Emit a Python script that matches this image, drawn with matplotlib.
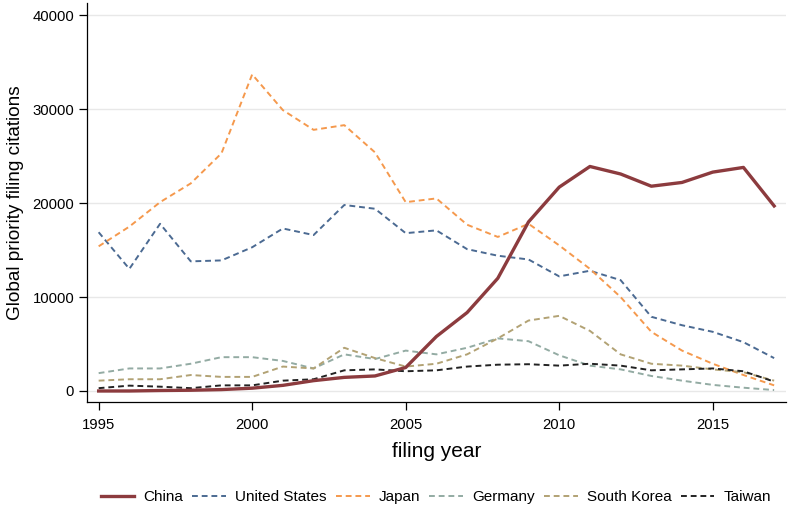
import matplotlib
matplotlib.use("Agg")
import matplotlib.pyplot as plt

plt.rcParams['font.family'] = ['Liberation Sans', 'DejaVu Sans']

years = list(range(1995, 2018))
china = [0, 0, 50, 80, 150, 300, 600, 1100, 1450, 1600, 2500, 5800, 8350, 12000, 18000, 21700, 23900, 23100, 21800, 22200, 23300, 23800, 19700]
united_states = [16900, 13000, 17800, 13800, 13900, 15300, 17300, 16600, 19800, 19400, 16800, 17100, 15100, 14400, 14000, 12200, 12800, 11800, 7900, 7000, 6300, 5200, 3500]
japan = [15400, 17500, 20100, 22100, 25300, 33700, 29900, 27800, 28300, 25400, 20100, 20500, 17700, 16400, 17800, 15500, 13000, 10000, 6300, 4300, 2900, 1700, 600]
germany = [1900, 2400, 2400, 2900, 3600, 3600, 3200, 2400, 3900, 3400, 4300, 3900, 4600, 5600, 5300, 3800, 2700, 2300, 1600, 1100, 650, 350, 100]
south_korea = [1100, 1250, 1250, 1700, 1500, 1500, 2600, 2400, 4600, 3500, 2600, 2900, 3900, 5600, 7500, 8000, 6400, 3900, 2900, 2700, 2300, 2000, 1100]
taiwan = [300, 570, 460, 300, 600, 600, 1100, 1250, 2200, 2300, 2100, 2200, 2600, 2800, 2850, 2700, 2900, 2700, 2200, 2300, 2400, 2100, 1000]

series_names = ["China", "United States", "Japan", "Germany", "South Korea", "Taiwan"]
colors = ["#8c3b3e", "#4b6a92", "#f5994d", "#93aba3", "#b2a274", "#222222"]
y_ticks = [0, 10000, 20000, 30000, 40000]
x_ticks = [1995, 2000, 2005, 2010, 2015]

fig = plt.figure(figsize=(7.88, 5.05), dpi=100)
ax = fig.add_axes([0.110, 0.204, 0.888, 0.790])

data = [china, united_states, japan, germany, south_korea, taiwan]
for name, vals, c in zip(series_names, data, colors):
    if name == "China":
        ax.plot(years, vals, color=c, lw=2.4, label=name, zorder=5)
    else:
        ax.plot(years, vals, color=c, lw=1.4, ls=(0, (3, 2)), label=name, zorder=3)

ax.set_xlim(1994.61, 2017.4)
ax.set_ylim(-1170, 41300)
ax.set_yticks(y_ticks)
ax.set_yticklabels([str(v) for v in y_ticks])
ax.set_xticks(x_ticks)
ax.grid(axis='y', color='#e8e8e8', lw=1.0, zorder=0)
ax.set_axisbelow(True)
for s in ['top', 'right']:
    ax.spines[s].set_visible(False)
ax.spines['left'].set_linewidth(0.9)
ax.spines['bottom'].set_linewidth(0.9)
ax.tick_params(axis='both', labelsize=10.7, length=5.5, width=0.9)
ax.tick_params(axis='x', pad=6)
ax.set_ylabel("Global priority filing citations", fontsize=13.7, labelpad=6)
ax.set_xlabel("filing year", fontsize=15, labelpad=7)

fig.legend(loc='lower center', bbox_to_anchor=(0.553, -0.026), ncol=6, frameon=False,
           fontsize=11, handlelength=2.2, columnspacing=0.6, handletextpad=0.6)

fig.savefig("out.png", dpi=100)
